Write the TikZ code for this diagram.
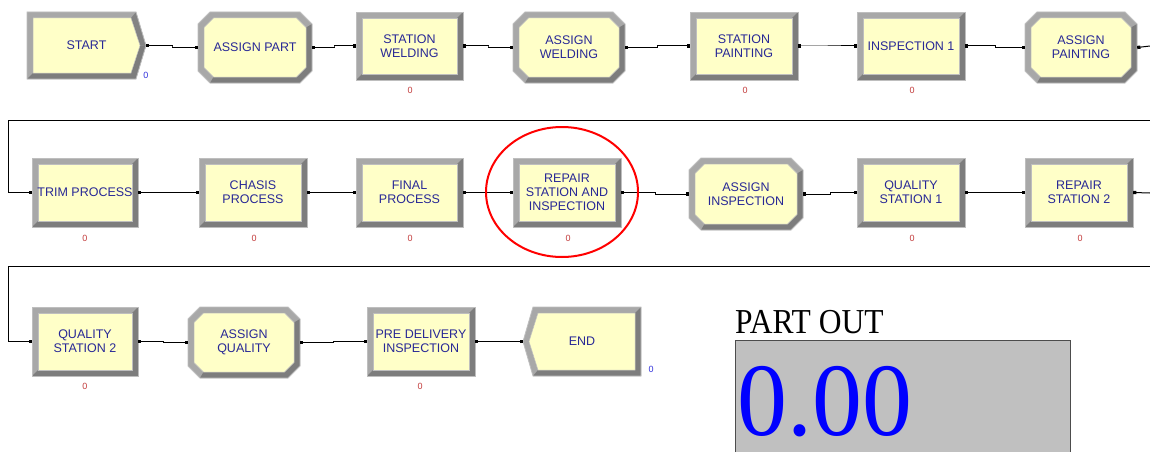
\documentclass[tikz,border=0pt]{standalone}
\usepackage{fontspec}
\setmainfont{Liberation Serif}
\newfontfamily\arialf{Liberation Sans}
\usetikzlibrary{arrows.meta,calc}
\definecolor{bvmid}{RGB}{168,168,168}
\definecolor{bvdark}{RGB}{125,125,125}
\definecolor{bvline}{RGB}{190,190,190}
\definecolor{modfill}{RGB}{255,255,200}
\definecolor{lblblue}{RGB}{40,40,150}
\definecolor{cntred}{RGB}{195,60,60}
\definecolor{cntblue}{RGB}{50,50,220}
\definecolor{panelgray}{RGB}{192,192,192}
\tikzset{
  modlbl/.style={inner sep=0pt, align=center, text=lblblue, font=\arialf\fontsize{12.5}{14}\selectfont},
  sqtip/.tip={Square[length=3.2pt,width=3.2pt]},
  conn/.style={line width=1pt, black, sqtip-sqtip},
  connS/.style={line width=1pt, black, sqtip-},
  connE/.style={line width=1pt, black, -sqtip},
  cnt/.style={font=\arialf\fontsize{9}{10}\selectfont, inner sep=0pt},
  outl/.style={draw=bvline, line width=0.8pt},
}
\def\bw{6}
\def\oc{12}
\def\oi{9.5}
% process module
\newcommand\procmod[6]{%
  \fill[bvmid] (#2,#3) rectangle (#4,#5);
  \fill[bvdark] (#4,#3) -- (#4,#5) -- (#2,#5) -- ({#2+\bw},{#5-\bw}) -- ({#4-\bw},{#5-\bw}) -- ({#4-\bw},{#3+\bw}) -- cycle;
  \draw[outl] (#2,#3) rectangle (#4,#5);
  \filldraw[fill=modfill, draw=bvline, line width=0.5pt] ({#2+\bw},{#3+\bw}) rectangle ({#4-\bw},{#5-\bw});
  \node[modlbl, minimum width={#4-#2}, minimum height={#5-#3}] (#1) at ({(#2+#4)/2},{(#3+#5)/2}) {#6};
}
% assign module (octagon)
\newcommand\asgmod[6]{%
  \pgfmathsetmacro\ixa{#2+\bw}\pgfmathsetmacro\iya{#3+\bw}%
  \pgfmathsetmacro\ixb{#4-\bw}\pgfmathsetmacro\iyb{#5-\bw}%
  \fill[bvmid] ({#2+\oc},#3) -- ({#4-\oc},#3) -- (#4,{#3+\oc}) -- (#4,{#5-\oc}) -- ({#4-\oc},#5) -- ({#2+\oc},#5) -- (#2,{#5-\oc}) -- (#2,{#3+\oc}) -- cycle;
  \fill[bvdark] (#4,{#3+\oc}) -- (#4,{#5-\oc}) -- ({#4-\oc},#5) -- ({#2+\oc},#5) -- ({\ixa+\oi},\iyb) -- ({\ixb-\oi},\iyb) -- (\ixb,{\iyb-\oi}) -- (\ixb,{\iya+\oi}) -- cycle;
  \draw[outl] ({#2+\oc},#3) -- ({#4-\oc},#3) -- (#4,{#3+\oc}) -- (#4,{#5-\oc}) -- ({#4-\oc},#5) -- ({#2+\oc},#5) -- (#2,{#5-\oc}) -- (#2,{#3+\oc}) -- cycle;
  \filldraw[fill=modfill, draw=bvline, line width=0.5pt] ({\ixa+\oi},\iya) -- ({\ixb-\oi},\iya) -- (\ixb,{\iya+\oi}) -- (\ixb,{\iyb-\oi}) -- ({\ixb-\oi},\iyb) -- ({\ixa+\oi},\iyb) -- (\ixa,{\iyb-\oi}) -- (\ixa,{\iya+\oi}) -- cycle;
  \node[modlbl, minimum width={#4-#2}, minimum height={#5-#3}] (#1) at ({(#2+#4)/2},{(#3+#5)/2}) {#6};
}
% create module (right chevron)
\newcommand\createmod[6]{%
  \pgfmathsetmacro\ym{(#3+#5)/2}%
  \fill[bvmid] (#2,#3) -- ({#4-10},#3) -- (#4,\ym) -- ({#4-10},#5) -- (#2,#5) -- cycle;
  \fill[bvdark] (#4,\ym) -- ({#4-10},#5) -- (#2,#5) -- ({#2+\bw},{#5-\bw}) -- ({#4-15},{#5-\bw}) -- ({#4-\bw},\ym) -- cycle;
  \fill[bvdark!85!bvmid] ({#4-10},#3) -- (#4,\ym) -- ({#4-\bw},\ym) -- ({#4-15},{#3+\bw}) -- cycle;
  \draw[outl] (#2,#3) -- ({#4-10},#3) -- (#4,\ym) -- ({#4-10},#5) -- (#2,#5) -- cycle;
  \filldraw[fill=modfill, draw=bvline, line width=0.5pt] ({#2+\bw},{#3+\bw}) -- ({#4-15},{#3+\bw}) -- ({#4-\bw},\ym) -- ({#4-15},{#5-\bw}) -- ({#2+\bw},{#5-\bw}) -- cycle;
  \node[modlbl, minimum width={#4-#2}, minimum height={#5-#3}] (#1) at ({(#2+#4)/2},\ym) {#6};
}
% dispose module (left chevron)
\newcommand\disposemod[6]{%
  \pgfmathsetmacro\ym{(#3+#5)/2}%
  \fill[bvmid] ({#2+10},#3) -- (#4,#3) -- (#4,#5) -- ({#2+10},#5) -- (#2,\ym) -- cycle;
  \fill[bvdark] (#4,#3) -- (#4,#5) -- ({#2+10},#5) -- ({#2+15},{#5-\bw}) -- ({#4-\bw},{#5-\bw}) -- ({#4-\bw},{#3+\bw}) -- cycle;
  \draw[outl] ({#2+10},#3) -- (#4,#3) -- (#4,#5) -- ({#2+10},#5) -- (#2,\ym) -- cycle;
  \filldraw[fill=modfill, draw=bvline, line width=0.5pt] ({#2+15},{#3+\bw}) -- ({#4-\bw},{#3+\bw}) -- ({#4-\bw},{#5-\bw}) -- ({#2+15},{#5-\bw}) -- ({#2+\bw},\ym) -- cycle;
  \node[modlbl, minimum width={#4-#2}, minimum height={#5-#3}] (#1) at ({(#2+#4)/2},\ym) {#6};
}
\newcommand\linkmods[2]{\draw[conn] (#1.east) -| ($(#1.east)!.5!(#2.west)$) |- (#2.west);}

\begin{document}
\begin{tikzpicture}[x=1pt,y=-1pt]
\useasboundingbox (0,0) rectangle (1150,452);
\fill[white] (0,0) rectangle (1150,452);

% ---------- row 1 ----------
\createmod{start}{27}{12}{146}{79}{START}
\asgmod{asgpart}{198}{12}{312}{83}{ASSIGN PART}
\procmod{stwld}{356}{12}{463}{80}{STATION\\WELDING}
\asgmod{asgwld}{513}{12}{625}{83}{ASSIGN\\WELDING}
\procmod{stpnt}{690}{12}{798}{80}{STATION\\PAINTING}
\procmod{insp}{857}{12}{965}{80}{INSPECTION 1}
\asgmod{asgpnt}{1025}{12}{1137}{83}{ASSIGN\\PAINTING}

% ---------- row 2 ----------
\procmod{trim}{32}{158}{138}{227}{TRIM PROCESS}
\procmod{chasis}{199}{158}{307}{227}{CHASIS\\PROCESS}
\procmod{final}{356}{158}{463}{227}{FINAL\\PROCESS}
\procmod{repair}{513}{158}{621}{227}{REPAIR\\STATION AND\\INSPECTION}
\asgmod{asgins}{689}{158}{803}{230}{ASSIGN\\INSPECTION}
\procmod{qsone}{857}{158}{965}{227}{QUALITY\\STATION 1}
\procmod{reptwo}{1025}{158}{1133}{227}{REPAIR\\STATION 2}

% ---------- row 3 ----------
\procmod{qstwo}{32}{307}{138}{376}{QUALITY\\STATION 2}
\asgmod{asgq}{188}{307}{300}{378}{ASSIGN\\QUALITY}
\procmod{pdi}{367}{307}{475}{376}{PRE DELIVERY\\INSPECTION}
\disposemod{endm}{523}{307}{641}{376}{END}

% ---------- counters ----------
\node[cnt,text=cntblue] (cstart) at (146,75) {0};
\node[cnt,text=cntred] (cstwld) at (410,90) {0};
\node[cnt,text=cntred] (cstpnt) at (745,90) {0};
\node[cnt,text=cntred] (cinsp) at (912,90) {0};
\node[cnt,text=cntred] (ctrim) at (85,238) {0};
\node[cnt,text=cntred] (cchasis) at (254,238) {0};
\node[cnt,text=cntred] (cfinal) at (410,238) {0};
\node[cnt,text=cntred] (crepair) at (568,238) {0};
\node[cnt,text=cntred] (cqsone) at (912,238) {0};
\node[cnt,text=cntred] (creptwo) at (1080,238) {0};
\node[cnt,text=cntred] (cqstwo) at (85,386) {0};
\node[cnt,text=cntred] (cpdi) at (420,386) {0};
\node[cnt,text=cntblue] (cend) at (651,369) {0};

% ---------- connectors ----------
\linkmods{start}{asgpart}
\linkmods{asgpart}{stwld}
\linkmods{stwld}{asgwld}
\linkmods{asgwld}{stpnt}
\linkmods{stpnt}{insp}
\linkmods{insp}{asgpnt}
\coordinate (exone) at (1150,46);
\draw[connS] (asgpnt.east) -- (exone);
\coordinate (inone) at (1150,120);
\coordinate (turnone) at (8,120);
\draw[connE] (inone) -- (turnone) |- (trim.west);
\linkmods{trim}{chasis}
\linkmods{chasis}{final}
\linkmods{final}{repair}
\linkmods{repair}{asgins}
\linkmods{asgins}{qsone}
\linkmods{qsone}{reptwo}
\coordinate (extwo) at (1150,193);
\draw[connS] (reptwo.east) -- (extwo);
\coordinate (intwo) at (1150,266);
\coordinate (turntwo) at (8,266);
\draw[connE] (intwo) -- (turntwo) |- (qstwo.west);
\linkmods{qstwo}{asgq}
\linkmods{asgq}{pdi}
\linkmods{pdi}{endm}

% ---------- highlight ----------
\draw[red, line width=2pt] (562,192) ellipse [x radius=76, y radius=65];

% ---------- part out panel ----------
\fill[panelgray] (735,340) rectangle (1070,452);
\draw[black!70, line width=0.8pt] (735,452) -- (735,340) -- (1070,340) -- (1070,452);
\node[anchor=base west, inner sep=0pt] (partout) at (735,333) {\fontsize{35}{40}\selectfont\scalebox{0.9}[1]{PART OUT}};
\node[anchor=base west, inner sep=0pt, text=blue] (value) at (737,435) {\fontsize{104}{110}\selectfont\smash{\scalebox{0.96}[1]{0.00}}};
\end{tikzpicture}
\end{document}
